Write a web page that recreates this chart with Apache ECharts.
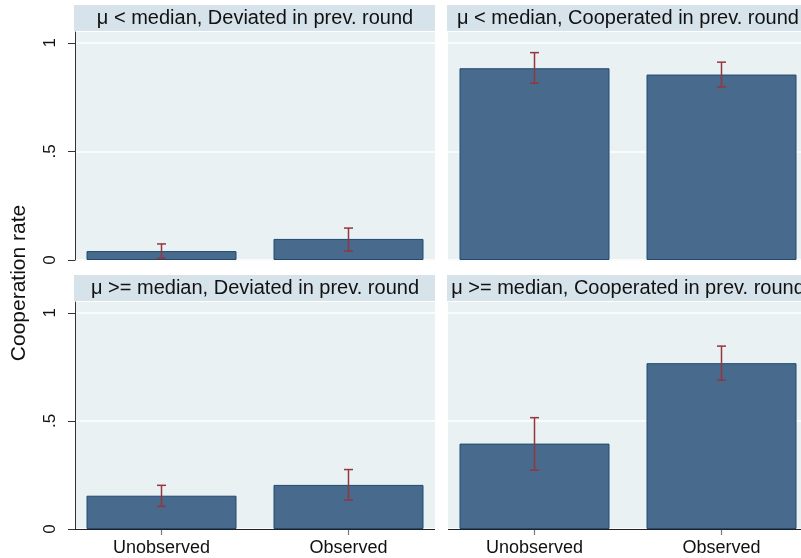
<!DOCTYPE html>
<html>
<head>
<meta charset="utf-8">
<script src="https://cdn.jsdelivr.net/npm/echarts@6/dist/echarts.min.js"></script>
<style>
html,body{margin:0;padding:0;background:#fff;}
#main{width:801px;height:558px;}
</style>
</head>
<body>
<div id="main"></div>
<script>
// data
var categories = ['Unobserved', 'Observed'];
var panelTitles = [
    'μ < median, Deviated in prev. round',
    'μ < median, Cooperated in prev. round',
    'μ >= median, Deviated in prev. round',
    'μ >= median, Cooperated in prev. round'
];
var rateLowDev = [0.041, 0.097];
var rateLowCoop = [0.883, 0.854];
var rateHighDev = [0.154, 0.204];
var rateHighCoop = [0.395, 0.767];
var ciLowDev = [[0.009, 0.074], [0.041, 0.147]];
var ciLowCoop = [[0.814, 0.955], [0.797, 0.911]];
var ciHighDev = [[0.105, 0.202], [0.134, 0.275]];
var ciHighCoop = [[0.272, 0.515], [0.688, 0.846]];
var yTicks = [0, 0.5, 1];
var yTitle = 'Cooperation rate';

var FONT = '"Liberation Sans", Arial, sans-serif';
var BAR = '#486a8c', BAR_EDGE = '#1f4a72', ERR = '#93363d';
var PLOT_BG = '#eaf1f3', STRIP_BG = '#d7e3ea';

// panel boxes (left, right, top, bottom) of the plot regions
var panels = [
    {l: 75, r: 435, t: 32, b: 260, rate: rateLowDev, ci: ciLowDev, yAxisShow: true, xAxisShow: false},
    {l: 448, r: 808, t: 32, b: 260, rate: rateLowCoop, ci: ciLowCoop, yAxisShow: false, xAxisShow: false},
    {l: 75, r: 435, t: 302, b: 529, rate: rateHighDev, ci: ciHighDev, yAxisShow: true, xAxisShow: true},
    {l: 448, r: 808, t: 302, b: 529, rate: rateHighCoop, ci: ciHighCoop, yAxisShow: false, xAxisShow: true}
];
var PAD = 7; // grid is a bit wider than the shaded box so bars sit like stata's

var chart = echarts.init(document.getElementById('main'), null, {renderer: 'canvas'});

var grids = [], xAxes = [], yAxes = [], series = [], graphics = [];

panels.forEach(function (p, i) {
    grids.push({
        left: p.l - PAD, top: p.t, width: (p.r - p.l) + 2 * PAD, height: p.b - p.t,
        containLabel: false, outerBoundsMode: 'none'
    });

    xAxes.push({
        gridIndex: i,
        type: 'category',
        data: categories,
        z: 3,
        axisLine: {show: false},
        axisTick: {show: p.xAxisShow, alignWithLabel: true, length: 6, lineStyle: {color: '#777', width: 1.2}},
        axisLabel: {show: p.xAxisShow, fontFamily: FONT, fontSize: 18, color: '#111', margin: 10},
        splitLine: {show: false}
    });

    yAxes.push({
        gridIndex: i,
        type: 'value',
        min: 0,
        max: 1.05,
        interval: 0.5,
        offset: -PAD,
        z: 3,
        axisLine: {show: p.yAxisShow, lineStyle: {color: '#333', width: 1}},
        axisTick: {show: p.yAxisShow, length: 7, customValues: yTicks, lineStyle: {color: '#333', width: 1}},
        axisLabel: {
            show: p.yAxisShow, customValues: yTicks, rotate: 90, margin: 16,
            fontFamily: FONT, fontSize: 17, color: '#111',
            formatter: function (v) {
                if (v === 0) return '0';
                if (v === 0.5) return '.5';
                if (v === 1) return '1';
                return '';
            }
        },
        splitLine: {show: true, lineStyle: {color: '#ffffff', width: 1.5}}
    });

    series.push({
        type: 'bar',
        xAxisIndex: i,
        yAxisIndex: i,
        data: p.rate,
        barWidth: 150,
        z: 4,
        itemStyle: {color: BAR, borderColor: BAR_EDGE, borderWidth: 1}
    });

    series.push({
        type: 'custom',
        xAxisIndex: i,
        yAxisIndex: i,
        z: 5,
        data: p.ci.map(function (c, k) { return [k, c[0], c[1]]; }),
        encode: {x: 0, y: [1, 2]},
        renderItem: function (params, api) {
            var lo = api.coord([api.value(0), api.value(1)]);
            var hi = api.coord([api.value(0), api.value(2)]);
            var w = 4.5;
            var st = {stroke: ERR, lineWidth: 1.5};
            return {
                type: 'group',
                children: [
                    {type: 'line', shape: {x1: lo[0], y1: lo[1], x2: hi[0], y2: hi[1]}, style: st},
                    {type: 'line', shape: {x1: lo[0] - w, y1: lo[1], x2: lo[0] + w, y2: lo[1]}, style: st},
                    {type: 'line', shape: {x1: hi[0] - w, y1: hi[1], x2: hi[0] + w, y2: hi[1]}, style: st}
                ]
            };
        }
    });

    // shaded plot region
    graphics.push({
        type: 'rect', z: -10,
        shape: {x: p.l, y: p.t, width: p.r - p.l, height: p.b - p.t + 1},
        style: {fill: PLOT_BG}
    });
    // title strip
    graphics.push({
        type: 'rect', z: -10,
        shape: {x: p.l - 1, y: p.t - 27, width: p.r - p.l + 1, height: 26},
        style: {fill: STRIP_BG}
    });
    graphics.push({
        type: 'text', z: 10,
        x: (p.l + p.r) / 2, y: p.t - 14,
        style: {text: panelTitles[i], font: '20px ' + FONT, fill: '#111', align: 'center', verticalAlign: 'middle'}
    });
    // x axis line for the bottom row
    if (p.xAxisShow) {
        graphics.push({
            type: 'line', z: 10,
            shape: {x1: p.l, y1: p.b + 0.5, x2: p.r, y2: p.b + 0.5},
            style: {stroke: '#222', lineWidth: 1.2}
        });
    }
});

graphics.push({
    type: 'text', z: 10,
    x: 19, y: 283,
    rotation: Math.PI / 2,
    style: {text: yTitle, font: '21px ' + FONT, fill: '#111', align: 'center', verticalAlign: 'middle'}
});

var option = {
    backgroundColor: '#ffffff',
    animation: false,
    grid: grids,
    xAxis: xAxes,
    yAxis: yAxes,
    series: series,
    graphic: {elements: graphics}
};
chart.setOption(option, true);
</script>
</body>
</html>
